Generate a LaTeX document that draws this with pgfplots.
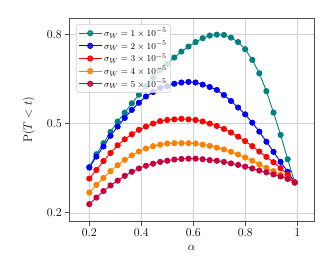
\documentclass[border=0pt]{standalone}
\usepackage{pgfplots}
\pgfplotsset{compat=1.18}
\definecolor{cteal}{RGB}{0,128,128}
\definecolor{corange}{RGB}{255,128,0}
\definecolor{ccrim}{RGB}{200,0,60}
\pgfplotstableread{
a s1 s2 s3 s4 s5
0.2000 0.354 0.352 0.315 0.268 0.229
0.2272 0.397 0.389 0.344 0.294 0.251
0.2545 0.434 0.423 0.374 0.317 0.273
0.2817 0.472 0.459 0.401 0.340 0.292
0.3090 0.507 0.490 0.427 0.360 0.308
0.3362 0.537 0.519 0.447 0.378 0.324
0.3634 0.568 0.546 0.464 0.393 0.338
0.3907 0.597 0.570 0.479 0.406 0.349
0.4179 0.626 0.591 0.490 0.416 0.358
0.4452 0.654 0.606 0.500 0.424 0.365
0.4724 0.679 0.620 0.508 0.429 0.371
0.4997 0.701 0.626 0.512 0.433 0.375
0.5269 0.722 0.634 0.514 0.434 0.379
0.5541 0.742 0.638 0.516 0.434 0.381
0.5814 0.759 0.640 0.514 0.434 0.382
0.6086 0.774 0.638 0.512 0.433 0.382
0.6359 0.787 0.631 0.507 0.429 0.380
0.6631 0.796 0.623 0.500 0.425 0.377
0.6903 0.799 0.613 0.492 0.419 0.375
0.7176 0.798 0.596 0.482 0.413 0.371
0.7448 0.789 0.576 0.470 0.405 0.366
0.7721 0.774 0.554 0.456 0.396 0.361
0.7993 0.750 0.531 0.441 0.386 0.355
0.8266 0.714 0.503 0.424 0.375 0.349
0.8538 0.669 0.473 0.406 0.363 0.342
0.8810 0.609 0.439 0.388 0.351 0.336
0.9083 0.537 0.405 0.370 0.340 0.329
0.9355 0.462 0.371 0.350 0.328 0.322
0.9628 0.380 0.338 0.329 0.315 0.314
0.9900 0.302 0.302 0.302 0.302 0.302
}\datatab
\begin{document}
\begin{tikzpicture}
\useasboundingbox (-69.3pt,-54pt) rectangle (263.7pt,221.7pt);
\begin{axis}[
  at={(0,0)}, anchor=south west,
  scale only axis, width=244.7pt, height=203.7pt,
  xmin=0.123, xmax=1.064, ymin=0.17, ymax=0.855,
  xtick={0.2,0.4,0.6,0.8,1}, ytick={0.2,0.5,0.8},
  grid=major, grid style={gray!35, line width=0.5pt},
  axis line style={black!70, line width=0.7pt},
  tick style={black!70, line width=0.6pt},
  tick align=outside, tickpos=left,
  major tick length=4pt,
  tick label style={font=\fontsize{11.5}{13}\selectfont},
  xlabel={$\alpha$}, ylabel={$\mathrm{P}(T < t)$},
  label style={font=\fontsize{11.5}{13}\selectfont},
  xlabel style={yshift=-2pt},
  ylabel style={yshift=5pt},
  legend cell align=left,
  legend style={font=\fontsize{9.5}{11}\selectfont, draw=gray!40, fill=white, fill opacity=0.8, text opacity=1, rounded corners=1.5pt, at={(0.028,0.97)}, anchor=north west, row sep=-1.2pt, inner sep=2pt},
  legend image post style={mark size=2.6pt},
  legend image code/.code={\draw[mark repeat=2,mark phase=2] plot coordinates {(0cm,0cm) (0.4cm,0cm) (0.8cm,0cm)};},
  every axis plot/.append style={line width=0.9pt, mark=*, mark size=2.6pt},
]
\addplot[cteal, mark options={fill=cteal}] table[x=a,y=s1] {\datatab};
\addlegendentry{$\sigma_W = 1\times10^{-5}$}
\addplot[blue, mark options={fill=blue}] table[x=a,y=s2] {\datatab};
\addlegendentry{$\sigma_W = 2\times10^{-5}$}
\addplot[red, mark options={fill=red}] table[x=a,y=s3] {\datatab};
\addlegendentry{$\sigma_W = 3\times10^{-5}$}
\addplot[corange, mark options={fill=corange}] table[x=a,y=s4] {\datatab};
\addlegendentry{$\sigma_W = 4\times10^{-5}$}
\addplot[ccrim, mark options={fill=ccrim}] table[x=a,y=s5] {\datatab};
\addlegendentry{$\sigma_W = 5\times10^{-5}$}
\end{axis}
\end{tikzpicture}
\end{document}
